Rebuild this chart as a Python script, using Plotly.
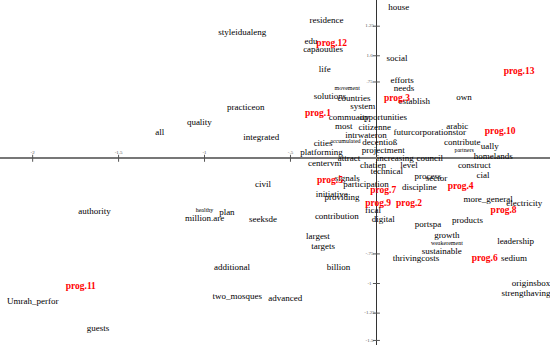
import plotly.graph_objects as go

## Data: term coordinates (dim 1, dim 2)
# ============================================================================
woorden = ['house', 'residence', 'styleidualeng', 'edu', 'capaouuies', 'life', 'social',
           'efforts', 'needs', 'movement', 'solutions', 'countries', 'establish', 'own',
           'practiceon', 'system', 'commuaity', 'opportunities', 'quality', 'integrated',
           'most', 'citizenne', 'intrwateron', 'arabic', 'futurcorporationstor', 'contribute',
           'decentioß', 'cities', 'platforming', 'accumulated', 'projectment', 'partners',
           'ually', 'homelands', 'attract', 'increasing', 'council', 'centervm', 'chatien',
           'level', 'construct', 'technical', 'cial', 'sector', 'process', 'signals', 'civil',
           'participation', 'initiative', 'providing', 'discipline', 'more_general',
           'electricity', 'authority', 'healthy', 'million.are', 'plan', 'seeksde',
           'contribution', 'fical', 'digital', 'portspa', 'products', 'growth',
           'weakerement', 'leadership', 'sustainable', 'thrivingcosts', 'sedium', 'largest',
           'targets', 'additional', 'billion', 'originsbox', 'strengthaving', 'Umrah_perfor',
           'two_mosques', 'advanced', 'guests', 'all']
woorden_x = [0.13, -0.29, -0.78, -0.38, -0.31, -0.30, 0.12,
             0.15, 0.16, -0.17, -0.27, -0.13, 0.22, 0.51,
             -0.76, -0.08, -0.16, 0.04, -1.03, -0.67,
             -0.19, -0.01, -0.06, 0.47, 0.31, 0.50,
             0.02, -0.31, -0.32, -0.18, 0.04, 0.51,
             0.66, 0.68, -0.16, 0.11, 0.31, -0.30, -0.02,
             0.19, 0.57, 0.06, 0.62, 0.35, 0.30, -0.17, -0.66,
             -0.06, -0.26, -0.20, 0.25, 0.65,
             0.86, -1.64, -1.00, -1.00, -0.87, -0.66,
             -0.23, -0.02, 0.04, 0.30, 0.53, 0.41,
             0.41, 0.81, 0.38, 0.23, 0.80, -0.34,
             -0.31, -0.84, -0.22, 0.90, 0.87, -2.00,
             -0.81, -0.53, -1.62, -1.26]
woorden_y = [1.32, 1.21, 1.10, 1.02, 0.95, 0.78, 0.87,
             0.68, 0.61, 0.61, 0.54, 0.52, 0.50, 0.53,
             0.44, 0.45, 0.36, 0.36, 0.31, 0.18,
             0.28, 0.27, 0.20, 0.28, 0.22, 0.14,
             0.14, 0.13, 0.05, 0.15, 0.07, 0.07,
             0.10, 0.01, 0.00, 0.00, 0.00, -0.05, -0.07,
             -0.07, -0.07, -0.12, -0.15, -0.18, -0.16, -0.18, -0.23,
             -0.23, -0.32, -0.35, -0.26, -0.36,
             -0.40, -0.47, -0.46, -0.53, -0.48, -0.54,
             -0.51, -0.46, -0.54, -0.58, -0.55, -0.68,
             -0.75, -0.73, -0.82, -0.88, -0.88, -0.69,
             -0.78, -0.96, -0.96, -1.10, -1.19, -1.26,
             -1.22, -1.23, -1.50, 0.22]
kleine_woorden = {'movement', 'accumulated', 'healthy', 'partners', 'weakerement'}

## Data: programme coordinates
# ============================================================================
programmas = ['prog.12', 'prog.13', 'prog.3', 'prog.1', 'prog.10', 'prog.5', 'prog.7',
              'prog.4', 'prog.9', 'prog.2', 'prog.8', 'prog.6', 'prog.11']
prog_x = [-0.26, 0.83, 0.12, -0.34, 0.72, -0.27, 0.04, 0.49, 0.01, 0.19, 0.74, 0.63, -1.72]
prog_y = [1.01, 0.76, 0.52, 0.39, 0.23, -0.20, -0.28, -0.25, -0.40, -0.40, -0.46, -0.88, -1.13]

## Axis tick labels drawn along the zero lines
# ============================================================================
xtick_waarden = [-2.0, -1.5, -1.0, -0.5]
xtick_tekst = ['-2', '-1.5', '-1', '-.5']
ytick_waarden = [1.16, 0.90, 0.67, -0.84, -1.10, -1.36, -1.60]
ytick_tekst = ['1.25', '1.0', '.75', '-.75', '-1', '-1.25', '-1.5']

FONT = 'Liberation Serif, Times New Roman, serif'

fig = go.Figure()

## Woorden (zwart):
# --------------------------------------
groot = [i for i, w in enumerate(woorden) if w not in kleine_woorden]
klein = [i for i, w in enumerate(woorden) if w in kleine_woorden]
for idx, size in [(groot, 9), (klein, 6)]:
    fig.add_trace(go.Scatter(
        x=[woorden_x[i] for i in idx],
        y=[woorden_y[i] for i in idx],
        text=[woorden[i] for i in idx],
        mode='text',
        textposition='middle center',
        textfont=dict(family=FONT, size=size, color='#000000'),
        hoverinfo='text',
        showlegend=False,
    ))

## Programma's (rood):
# --------------------------------------
fig.add_trace(go.Scatter(
    x=prog_x, y=prog_y, text=[f'<b>{p}</b>' for p in programmas],
    mode='text', textposition='middle center',
    textfont=dict(family=FONT, size=9.5, color='#ff0000'),
    hoverinfo='text', showlegend=False,
))

## Tick marks en labels:
# --------------------------------------
fig.add_trace(go.Scatter(
    x=xtick_waarden, y=[0] * len(xtick_waarden), mode='markers',
    marker=dict(symbol='line-ns', size=5, line=dict(width=1, color='#555555')),
    hoverinfo='none', showlegend=False,
))
fig.add_trace(go.Scatter(
    x=xtick_waarden, y=[0.05] * len(xtick_waarden), text=xtick_tekst, mode='text',
    textfont=dict(family=FONT, size=5, color='#555555'),
    hoverinfo='none', showlegend=False,
))
fig.add_trace(go.Scatter(
    x=[0] * len(ytick_waarden), y=ytick_waarden, mode='markers',
    marker=dict(symbol='line-ew', size=5, line=dict(width=1, color='#555555')),
    hoverinfo='none', showlegend=False,
))
fig.add_trace(go.Scatter(
    x=[-0.04] * len(ytick_waarden), y=ytick_waarden, text=ytick_tekst, mode='text',
    textfont=dict(family=FONT, size=5, color='#555555'),
    hoverinfo='none', showlegend=False,
))

fig.update_layout(
    width=550, height=345,
    margin=dict(l=0, r=0, t=0, b=0),
    paper_bgcolor='white', plot_bgcolor='white',
    xaxis=dict(range=[-2.19, 1.01], showgrid=False, showticklabels=False, ticks='',
               zeroline=True, zerolinecolor='#333333', zerolinewidth=1),
    yaxis=dict(range=[-1.64, 1.39], showgrid=False, showticklabels=False, ticks='',
               zeroline=True, zerolinecolor='#777777', zerolinewidth=1.5),
)

## Geen body-marge, zodat de figuur op (0, 0) begint:
fig.write_html('out.html', config=dict(displayModeBar=False),
               post_script="document.body.style.margin='0';")
